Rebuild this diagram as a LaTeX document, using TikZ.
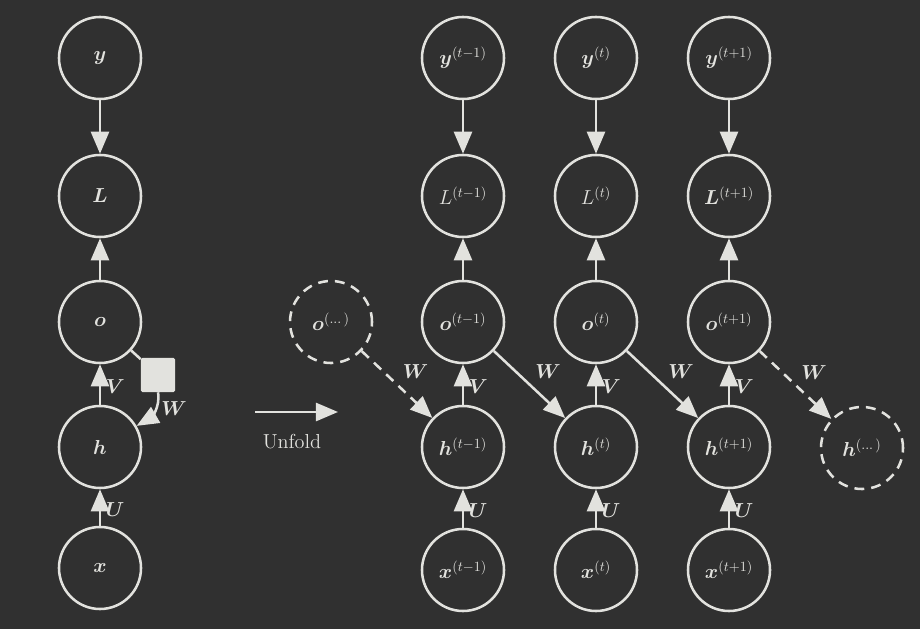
\documentclass[tikz,border=0pt]{standalone}
\usepackage{amsmath,bm}
\usetikzlibrary{arrows.meta}
\definecolor{bg}{HTML}{303030}
\definecolor{fg}{HTML}{E2E2DE}
\begin{document}
\begin{tikzpicture}[x=0.025cm,y=-0.025cm,
  n/.style={circle,draw=fg,line width=1.8pt,minimum size=2.05cm,inner sep=0pt,text=fg,font=\Large},
  d/.style={n,dashed,dash pattern=on 7pt off 5pt},
  e/.style={draw=fg,line width=1.8pt,-{Triangle[width=0.45cm,length=0.55cm]}},
  de/.style={e,dash pattern=on 7pt off 5pt},
  lb/.style={text=fg,font=\Large}]
\fill[bg] (0,0) rectangle (920,629);
\useasboundingbox (0,0) rectangle (920,629);
% left
\node[n] (y) at (100,58) {$\bm y$};
\node[n] (L) at (100,196) {$\bm L$};
\node[n] (o) at (100,322) {$\bm o$};
\node[n] (h) at (100,447) {$\bm h$};
\node[n] (x) at (100,568) {$\bm x$};
\draw[e] (y) -- (L);
\draw[e] (o) -- (L);
\draw[e] (h) -- node[lb,right,pos=0.45]{$\bm V$} (o);
\draw[e] (x) -- node[lb,right,pos=0.45]{$\bm U$} (h);
\node[fill=fg,minimum size=0.85cm,inner sep=0pt,rounded corners=1pt] (sq) at (158,375) {};
\draw[draw=fg,line width=1.8pt] (o) -- (sq);
\draw[e] (sq.south) to[out=-80,in=30] node[lb,right,pos=0.4]{$\bm W$} (h);
% unfold
\coordinate (ua) at (255,412); \coordinate (ub) at (338,412);
\draw[e] (ua) -- (ub);
\node[text=fg,font=\Large] (uf) at (292,442) {Unfold};
% unfolded
\node[d] (od) at (331,322) {$\bm o^{(\dots)}$};
\node[d] (hd) at (862,448) {$\bm h^{(\dots)}$};
\foreach \i/\x/\s/\Ls in {a/463/t-1/L^{(t-1)},b/596/t/L^{(t)},c/729/t+1/\bm L^{(t+1)}}{
  \node[n] (y\i) at (\x,58) {$\bm y^{(\s)}$};
  \node[n] (L\i) at (\x,196) {$\Ls$};
  \node[n] (o\i) at (\x,322) {$\bm o^{(\s)}$};
  \node[n] (h\i) at (\x,447) {$\bm h^{(\s)}$};
  \node[n] (x\i) at (\x,570) {$\bm x^{(\s)}$};
  \draw[e] (y\i) -- (L\i);
  \draw[e] (o\i) -- (L\i);
  \draw[e] (h\i) -- node[lb,right,pos=0.45]{$\bm V$} (o\i);
  \draw[e] (x\i) -- node[lb,right,pos=0.45]{$\bm U$} (h\i);
}
\draw[de] (od) -- node[lb,above right]{$\bm W$} (ha);
\draw[e] (oa) -- node[lb,above right]{$\bm W$} (hb);
\draw[e] (ob) -- node[lb,above right]{$\bm W$} (hc);
\draw[de] (oc) -- node[lb,above right]{$\bm W$} (hd);
\end{tikzpicture}
\end{document}
